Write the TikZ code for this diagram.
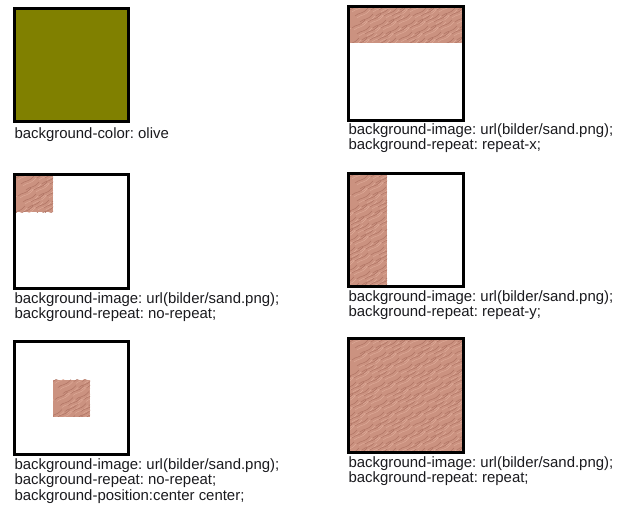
\documentclass[tikz,border=0pt]{standalone}
\usepackage{fontspec}
\setmainfont{Liberation Sans}
\definecolor{olivebg}{RGB}{128,128,0}
\definecolor{sandbg}{RGB}{203,146,128}
\definecolor{sanddark}{RGB}{176,116,100}
\definecolor{sandlight}{RGB}{222,170,152}
\definecolor{labeltext}{RGB}{26,26,30}
\tikzset{every picture/.style={line width=0.75pt}}
\tikzset{
  framebox/.style={draw=black,line width=2.25pt},
  csslabel/.style={anchor=north west,inner sep=0pt,align=left,text=labeltext,
    font=\fontsize{11.2}{11.6}\selectfont\frenchspacing}
}
% sand texture: x1,y1,x2,y2 in picture units
\newcommand{\sandpatch}[4]{%
  \begin{scope}
    \clip (#1,#2) rectangle (#3,#4);
    \fill[sandbg] (#1,#2) rectangle (#3,#4);
    \foreach \i in {-14,0,...,120}{
      \foreach \j in {0,6,...,126}{
        \pgfmathsetmacro{\o}{mod(\i*7+\j*3,13)}
        \draw[sanddark,line width=0.4pt] ({#1+\i+\o},{#2+\j+2}) .. controls ({#1+\i+\o+4},{#2+\j-2}) and ({#1+\i+\o+7},{#2+\j+1}) .. ({#1+\i+\o+13},{#2+\j-6});
        \draw[sandlight,line width=0.35pt] ({#1+\i+\o+2},{#2+\j+4}) .. controls ({#1+\i+\o+6},{#2+\j}) and ({#1+\i+\o+9},{#2+\j+3}) .. ({#1+\i+\o+15},{#2+\j-4});
      }
    }
  \end{scope}}

\begin{document}
\begin{tikzpicture}[x=0.75pt,y=0.75pt,yscale=-1,xscale=1]
\useasboundingbox (0,0) rectangle (627,510);

%Rectangle: olive
\fill[olivebg] (14.5,8.5) rectangle (128.5,121.5);
\draw[framebox] (14.5,8.5) rectangle (128.5,121.5);
\node[csslabel] (lblolive) at (14,127) {background-color: olive};

%Rectangle: repeat-x
\sandpatch{350}{8}{462}{43}
\draw[framebox] (348.5,6.5) rectangle (463.5,120.5);
\node[csslabel] (lblrepx) at (348,123) {background-image: url(bilder/sand.png);\\background-repeat: repeat-x;};

%Rectangle: no-repeat
\sandpatch{16}{176}{53}{212}
\draw[framebox] (14.5,174.5) rectangle (128.5,288.5);
\node[csslabel] (lblnorep) at (14,292) {background-image: url(bilder/sand.png);\\background-repeat: no-repeat;};

%Rectangle: repeat-y
\sandpatch{350}{175}{387}{285}
\draw[framebox] (348.5,173.5) rectangle (463.5,286.5);
\node[csslabel] (lblrepy) at (348,290) {background-image: url(bilder/sand.png);\\background-repeat: repeat-y;};

%Rectangle: centered
\sandpatch{53}{379.5}{90}{416.5}
\draw[framebox] (14.5,341.5) rectangle (128.5,454.5);
\node[csslabel] (lblcenter) at (14,458) {background-image: url(bilder/sand.png);\\background-repeat: no-repeat;\\background-position:center center;};

%Rectangle: repeat
\sandpatch{350}{340}{462}{451}
\draw[framebox] (348.5,338.5) rectangle (463.5,452.5);
\node[csslabel] (lblrep) at (348,456) {background-image: url(bilder/sand.png);\\background-repeat: repeat;};

\end{tikzpicture}
\end{document}
